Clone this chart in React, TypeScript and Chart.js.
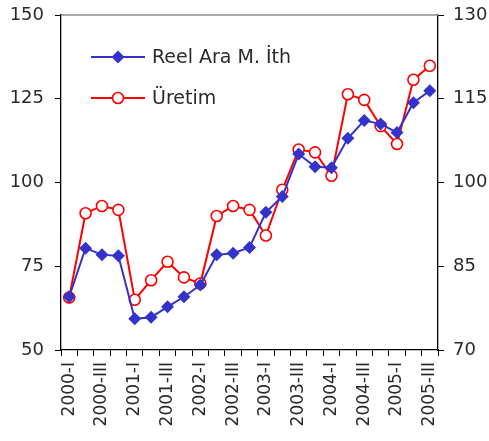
import React, { useEffect, useRef } from "react";
import { Chart, registerables } from "chart.js";

Chart.register(...registerables);

const quarters = [
  "2000-I", "2000-II", "2000-III", "2000-IV",
  "2001-I", "2001-II", "2001-III", "2001-IV",
  "2002-I", "2002-II", "2002-III", "2002-IV",
  "2003-I", "2003-II", "2003-III", "2003-IV",
  "2004-I", "2004-II", "2004-III", "2004-IV",
  "2005-I", "2005-II", "2005-III",
];

// Reel ara malı ithalatı (left axis)
const reelAraIth = [
  65.9, 80.4, 78.4, 78.1, 59.3, 59.8, 62.9, 65.9, 69.4, 78.4, 78.9, 80.6,
  91.1, 95.8, 108.5, 104.7, 104.4, 113.2, 118.5, 117.5, 114.9, 123.8, 127.4,
];

// Üretim (right axis)
const uretim = [
  79.4, 94.5, 95.8, 95.1, 79.0, 82.5, 85.8, 83.0, 81.9, 94.0, 95.8, 95.1,
  90.5, 98.7, 105.9, 105.4, 101.2, 115.8, 114.8, 110.1, 106.9, 118.4, 120.9,
];

const leftTicks = { min: 50, max: 150, step: 25 };
const rightTicks = { min: 70, max: 130, step: 15 };

const BLUE = "#3333CC";
const RED = "#FF0000";
const FONT = "'DejaVu Sans', sans-serif";
const TEXT = "#2a2a2a";

const frameAndLegend = {
  id: "frameAndLegend",
  afterDraw(chart: any) {
    const { ctx, chartArea } = chart;
    ctx.save();
    // top frame line
    ctx.strokeStyle = "#8c8c8c";
    ctx.lineWidth = 1.5;
    ctx.beginPath();
    ctx.moveTo(chartArea.left, chartArea.top);
    ctx.lineTo(chartArea.right, chartArea.top);
    ctx.stroke();

    // legend entries
    const entries = [
      { label: "Reel Ara M. İth", color: BLUE, kind: "diamond", y: 57 },
      { label: "Üretim", color: RED, kind: "circle", y: 98 },
    ];
    const x0 = chartArea.left + 30;
    const x1 = chartArea.left + 84;
    const xm = (x0 + x1) / 2;
    for (const e of entries) {
      ctx.strokeStyle = e.color;
      ctx.lineWidth = 2;
      ctx.beginPath();
      ctx.moveTo(x0, e.y);
      ctx.lineTo(x1, e.y);
      ctx.stroke();
      if (e.kind === "diamond") {
        const r = 6.5;
        ctx.fillStyle = e.color;
        ctx.beginPath();
        ctx.moveTo(xm - r, e.y);
        ctx.lineTo(xm, e.y - r);
        ctx.lineTo(xm + r, e.y);
        ctx.lineTo(xm, e.y + r);
        ctx.closePath();
        ctx.fill();
      } else {
        ctx.fillStyle = "#ffffff";
        ctx.lineWidth = 1.6;
        ctx.beginPath();
        ctx.arc(xm, e.y, 5.5, 0, Math.PI * 2);
        ctx.fill();
        ctx.stroke();
      }
      ctx.fillStyle = TEXT;
      ctx.font = `19px ${FONT}`;
      ctx.textAlign = "left";
      ctx.textBaseline = "middle";
      ctx.fillText(e.label, x1 + 7, e.y + 1);
    }
    ctx.restore();
  },
};

// Fix axis thickness and drop the automatic edge padding for tick labels
const fitY = (width: number) => (scale: any) => {
  scale.width = width;
  scale.paddingTop = 0;
  scale.paddingBottom = 0;
};

export default function App() {
  const canvasRef = useRef<HTMLCanvasElement | null>(null);

  useEffect(() => {
    const canvas = canvasRef.current;
    if (!canvas) return;
    const chart = new Chart(canvas, {
      type: "line",
      data: {
        labels: quarters,
        datasets: [
          {
            label: "Reel Ara M. İth",
            data: reelAraIth,
            yAxisID: "yLeft",
            borderColor: BLUE,
            backgroundColor: BLUE,
            borderWidth: 2,
            pointStyle: "rectRot",
            pointRadius: 6.5,
            pointBorderWidth: 0,
            pointBackgroundColor: BLUE,
            pointBorderColor: BLUE,
            tension: 0,
          },
          {
            label: "Üretim",
            data: uretim,
            yAxisID: "yRight",
            borderColor: RED,
            backgroundColor: "#ffffff",
            borderWidth: 2,
            pointStyle: "circle",
            pointRadius: 5.5,
            pointBorderWidth: 1.6,
            pointBackgroundColor: "#ffffff",
            pointBorderColor: RED,
            tension: 0,
          },
        ],
      },
      options: {
        animation: false,
        responsive: false,
        maintainAspectRatio: false,
        layout: { padding: { top: 15, left: 0, right: 0, bottom: 0 } },
        plugins: {
          legend: { display: false },
          tooltip: { enabled: false },
        },
        scales: {
          x: {
            type: "category",
            offset: true,
            grid: {
              offset: true,
              drawOnChartArea: false,
              drawTicks: true,
              tickLength: 6,
              tickColor: "#000000",
              tickWidth: 1,
            },
            border: { display: true, color: "#000000", width: 1.3 },
            ticks: {
              autoSkip: false,
              minRotation: 90,
              maxRotation: 90,
              padding: 6,
              color: TEXT,
              font: { family: FONT, size: 17 },
              callback: (_v: any, i: number) => (i % 2 === 0 ? quarters[i] : ""),
            },
            afterFit: (scale: any) => {
              scale.height = 91;
              scale.paddingLeft = 0;
              scale.paddingRight = 0;
            },
          },
          yLeft: {
            type: "linear",
            position: "left",
            min: leftTicks.min,
            max: leftTicks.max,
            grid: {
              drawOnChartArea: false,
              drawTicks: true,
              tickLength: 6,
              tickColor: "#000000",
            },
            border: { display: true, color: "#000000", width: 1.3 },
            ticks: {
              stepSize: leftTicks.step,
              padding: 11,
              color: TEXT,
              font: { family: FONT, size: 18 },
            },
            afterFit: fitY(61),
          },
          yRight: {
            type: "linear",
            position: "right",
            min: rightTicks.min,
            max: rightTicks.max,
            grid: {
              drawOnChartArea: false,
              drawTicks: true,
              tickLength: 6,
              tickColor: "#000000",
            },
            border: { display: true, color: "#000000", width: 1.3 },
            ticks: {
              stepSize: rightTicks.step,
              padding: 9,
              color: TEXT,
              font: { family: FONT, size: 18 },
            },
            afterFit: fitY(51),
          },
        },
      },
      plugins: [frameAndLegend],
    });
    return () => chart.destroy();
  }, []);

  return (
    <div style={{ position: "absolute", left: 0, top: 0, width: 489, height: 441, background: "#ffffff" }}>
      <canvas ref={canvasRef} width={489} height={441} style={{ display: "block" }} />
    </div>
  );
}
